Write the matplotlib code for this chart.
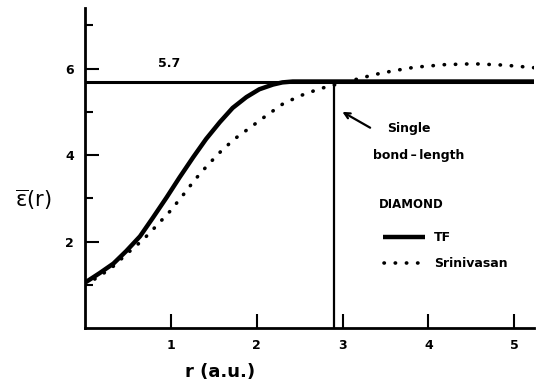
import matplotlib.pyplot as plt
import numpy as np

# Thomas-Fermi dielectric function for diamond
r_tf = [0.0, 0.17, 0.33, 0.48, 0.64, 0.79, 0.95, 1.10, 1.26, 1.41, 1.57, 1.72,
        1.88, 2.03, 2.19, 2.3, 2.42, 2.6, 3.0, 4.0, 5.25]
eps_tf = [1.05, 1.27, 1.49, 1.78, 2.12, 2.55, 3.02, 3.48, 3.95, 4.37, 4.76, 5.09,
          5.34, 5.52, 5.63, 5.68, 5.7, 5.7, 5.7, 5.7, 5.7]

# Srinivasan
r_sr = [0.0, 0.17, 0.33, 0.50, 0.68, 0.83, 0.99, 1.14, 1.28, 1.43, 1.58, 1.74,
        1.92, 2.09, 2.31, 2.52, 2.73, 2.90, 3.14, 3.37, 3.60, 3.84, 4.19, 4.53,
        4.88, 5.23]
eps_sr = [1.0, 1.2, 1.43, 1.74, 2.05, 2.36, 2.70, 3.07, 3.43, 3.77, 4.08, 4.37,
          4.63, 4.88, 5.19, 5.38, 5.53, 5.62, 5.74, 5.86, 5.95, 6.03, 6.09, 6.11,
          6.08, 6.02]

eps_inf = 5.7
bond_length = 2.9

plt.rcParams['font.family'] = ['Liberation Sans Narrow', 'DejaVu Sans']
plt.rcParams['font.weight'] = 'bold'
plt.rcParams['mathtext.default'] = 'regular'

fig = plt.figure(figsize=(5.42, 3.83), dpi=100)
ax = fig.add_axes([0.157, 0.1436, 0.828, 0.8355])

ax.plot(r_tf, eps_tf, color='black', lw=3.2, solid_capstyle='butt',
        solid_joinstyle='round')
ax.plot(r_sr, eps_sr, color='black', lw=2.6, linestyle=(0, (0.1, 3.0)),
        dash_capstyle='round')
ax.axhline(eps_inf, color='black', lw=2.2)
ax.plot([bond_length, bond_length], [0, eps_inf], color='black', lw=1.6)

ax.set_xlim(0, 5.23)
ax.set_ylim(0, 7.4)
ax.spines['top'].set_visible(False)
ax.spines['right'].set_visible(False)
ax.spines['left'].set_linewidth(2)
ax.spines['bottom'].set_linewidth(2)

ax.set_xticks([1, 2, 3, 4, 5])
ax.set_yticks([2, 4, 6])
ax.set_yticks([1, 3, 5, 7], minor=True)
ax.tick_params(axis='both', which='major', direction='in', length=10, width=1.5,
               labelsize=9)
ax.tick_params(axis='y', which='minor', direction='in', length=6, width=1.5)
ax.tick_params(axis='x', pad=8)
ax.tick_params(axis='y', pad=8)

ax.set_xlabel('r (a.u.)', fontsize=13, fontweight='bold', labelpad=10)
ax.xaxis.set_label_coords(0.30, -0.11)
ax.set_ylabel(r'$\overline{\varepsilon}$(r)', fontsize=15, fontweight='normal',
              rotation=0, va='center', ha='center')
ax.yaxis.set_label_coords(-0.115, 0.40)

ax.text(0.98, 6.12, '5.7', fontsize=9, ha='center', va='center')

ax.annotate('', xy=(2.97, 5.03), xytext=(3.35, 4.6),
            arrowprops=dict(arrowstyle='->', lw=1.6, color='black'))
ax.text(3.52, 4.62, 'Single', fontsize=9, va='center')
ax.text(3.35, 4.0, 'bond\u2009\u2013\u2009length', fontsize=9, va='center')

ax.text(3.42, 2.85, 'DIAMOND', fontsize=8.5, va='center')
ax.plot([3.47, 3.96], [2.1, 2.1], color='black', lw=3.2, solid_capstyle='butt')
ax.text(4.07, 2.1, 'TF', fontsize=9, va='center')
ax.plot([3.48, 3.96], [1.5, 1.5], color='black', lw=2.6, linestyle=(0, (0.1, 3.0)),
        dash_capstyle='round')
ax.text(4.07, 1.5, 'Srinivasan', fontsize=9, va='center')

plt.savefig('out.png', dpi=100)
plt.close()
